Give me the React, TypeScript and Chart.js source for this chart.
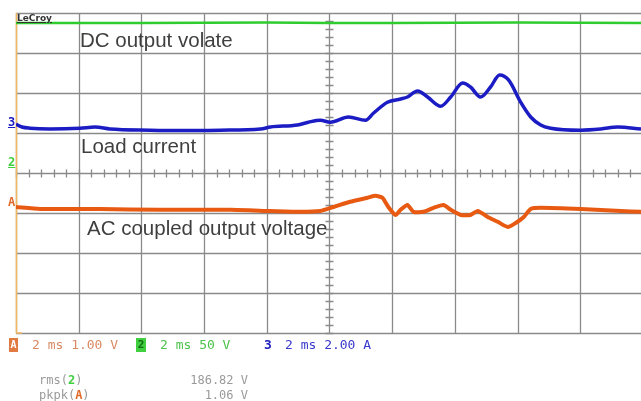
import React, { useEffect, useRef } from "react";
import { Chart, registerables } from "chart.js";

Chart.register(...registerables);

// time axis: 2 ms/div, 10 divisions; vertical axis in screen divisions (centre = 0)
const timeDivisionsMs = [0, 2, 4, 6, 8, 10, 12, 14, 16, 18];
const levelDivisions = [-4, -3, -2, -1, 0, 1, 2, 3, 4];

// Channel 2 – DC output voltage (div)
const dcTime = [0, 4, 8, 10, 12, 16, 20];
const dcLevel = [3.75, 3.75, 3.76, 3.75, 3.75, 3.76, 3.75];

// Channel 3 – load current (div)
const loadTime = [0, 0.19, 0.45, 1.09, 2.04, 2.52, 3.0, 4.28, 5.24, 6.52, 7.8, 8.12, 8.98, 9.33, 9.71, 10.03, 10.61, 11.15, 11.41, 11.85, 12.27, 12.49, 12.81, 13.13, 13.55, 13.87, 14.25, 14.5, 14.82, 15.14, 15.43, 15.72, 16.1, 16.42, 16.74, 17.06, 18.02, 18.66, 19.2, 19.94];
const loadLevel = [1.22, 1.15, 1.12, 1.1, 1.12, 1.15, 1.1, 1.07, 1.06, 1.07, 1.1, 1.15, 1.2, 1.27, 1.32, 1.27, 1.4, 1.32, 1.5, 1.77, 1.85, 1.9, 2.05, 1.9, 1.67, 1.9, 2.25, 2.15, 1.9, 2.15, 2.45, 2.32, 1.77, 1.4, 1.2, 1.12, 1.07, 1.1, 1.15, 1.1];

// Channel A – AC coupled output voltage (div)
const acTime = [0, 0.77, 2.68, 4.6, 6.84, 8.12, 9.07, 9.71, 10.13, 10.66, 11.21, 11.47, 11.69, 11.88, 12.11, 12.27, 12.49, 12.68, 13.0, 13.32, 13.64, 13.87, 14.19, 14.5, 14.73, 15.05, 15.37, 15.69, 15.94, 16.2, 16.42, 16.74, 18.02, 19.3, 19.94];
const acLevel = [-0.85, -0.9, -0.9, -0.92, -0.92, -0.95, -0.97, -0.95, -0.85, -0.72, -0.62, -0.57, -0.62, -0.85, -1.05, -0.92, -0.8, -0.97, -0.97, -0.87, -0.8, -0.92, -1.05, -1.05, -0.95, -1.1, -1.22, -1.35, -1.25, -1.1, -0.9, -0.87, -0.9, -0.95, -0.97];

const pts = (xs: number[], ys: number[]) => xs.map((x, i) => ({ x, y: ys[i] }));

const gridPlugin = {
  id: "scopeGrid",
  beforeDatasetsDraw(chart: any) {
    const { ctx, chartArea, scales } = chart;
    const xs = scales.x;
    const ys = scales.y;
    const { left, right, top, bottom } = chartArea;
    ctx.save();
    ctx.strokeStyle = "#8a8a8a";
    ctx.lineWidth = 1.3;
    timeDivisionsMs.forEach((t) => {
      const x = Math.round(xs.getPixelForValue(t)) + 0.5;
      ctx.beginPath();
      ctx.moveTo(x, top);
      ctx.lineTo(x, bottom);
      ctx.stroke();
    });
    levelDivisions.forEach((v) => {
      const y = Math.round(ys.getPixelForValue(v)) + 0.5;
      ctx.beginPath();
      ctx.moveTo(left, y);
      ctx.lineTo(right, y);
      ctx.stroke();
    });
    // centre minor ticks
    const cy = Math.round(ys.getPixelForValue(0)) + 0.5;
    const cx = Math.round(xs.getPixelForValue(10)) + 0.5;
    ctx.beginPath();
    for (let t = 0; t <= 20; t += 0.4) {
      const x = Math.round(xs.getPixelForValue(t)) + 0.5;
      if (x > right) break;
      ctx.moveTo(x, cy - 4);
      ctx.lineTo(x, cy + 4);
    }
    for (let v = -4; v <= 4; v += 0.2) {
      const y = Math.round(ys.getPixelForValue(v)) + 0.5;
      ctx.moveTo(cx - 4, y);
      ctx.lineTo(cx + 4, y);
    }
    ctx.stroke();
    // left trigger/marker line
    ctx.strokeStyle = "#f2b860";
    ctx.lineWidth = 1.5;
    ctx.beginPath();
    ctx.moveTo(left + 0.5, top);
    ctx.lineTo(left + 0.5, bottom);
    ctx.lineTo(left + 6, bottom);
    ctx.stroke();
    ctx.restore();
  },
};

const textBase: React.CSSProperties = {
  position: "absolute",
  whiteSpace: "nowrap",
  margin: 0,
};

const label = (txt: string, left: number, top: number): React.ReactElement => (
  <div
    key={txt}
    style={{
      ...textBase,
      left,
      top,
      fontFamily: "'Liberation Sans', Arial, sans-serif",
      fontSize: 20.5,
      lineHeight: "20.5px",
      color: "#3f3f3f",
    }}
  >
    {txt}
  </div>
);

const mono: React.CSSProperties = {
  ...textBase,
  fontFamily: "'DejaVu Sans Mono', monospace",
  fontSize: 13,
  lineHeight: "14px",
};

export default function App() {
  const ref = useRef<HTMLCanvasElement | null>(null);
  useEffect(() => {
    if (!ref.current) return;
    const chart = new Chart(ref.current, {
      type: "line",
      data: {
        datasets: [
          {
            label: "DC output voltage",
            data: pts(dcTime, dcLevel),
            borderColor: "#2ecc2e",
            borderWidth: 2.5,
            pointRadius: 0,
            tension: 0,
          },
          {
            label: "Load current",
            data: pts(loadTime, loadLevel),
            borderColor: "#1c1cc4",
            borderWidth: 3.5,
            pointRadius: 0,
            cubicInterpolationMode: "monotone",
          },
          {
            label: "AC coupled output voltage",
            data: pts(acTime, acLevel),
            borderColor: "#e85a12",
            borderWidth: 4,
            pointRadius: 0,
            tension: 0.2,
          },
        ],
      },
      options: {
        animation: false,
        responsive: false,
        layout: { padding: { left: 16, top: 13, right: 0, bottom: 68 } },
        plugins: { legend: { display: false }, tooltip: { enabled: false } },
        scales: {
          x: { type: "linear", min: 0, max: 19.94, display: false },
          y: { type: "linear", min: -4, max: 4, display: false },
        },
      },
      plugins: [gridPlugin],
    });
    return () => chart.destroy();
  }, []);

  return (
    <div style={{ position: "fixed", left: 0, top: 0, width: 641, height: 401, background: "#fff", overflow: "hidden" }}>
      <canvas ref={ref} width={641} height={401} style={{ display: "block", position: "absolute", left: 0, top: 0 }} />
      <div
        style={{
          ...textBase,
          left: 17,
          top: 13,
          fontFamily: "'DejaVu Sans', sans-serif",
          fontSize: 9,
          fontWeight: "bold",
          color: "#333",
          textDecoration: "underline",
          lineHeight: "10px",
        }}
      >
        LeCroy
      </div>
      {label("DC output volate", 80, 29.6)}
      {label("Load current", 81, 135.6)}
      {label("AC coupled output voltage", 87, 217.6)}
      {/* channel markers at left */}
      <div style={{ ...mono, left: 8, top: 115, color: "#1c1cc4", fontWeight: "bold", textDecoration: "underline", fontSize: 12 }}>3</div>
      <div style={{ ...mono, left: 8, top: 155, color: "#3fcf3f", fontWeight: "bold", textDecoration: "underline", fontSize: 12 }}>2</div>
      <div style={{ ...mono, left: 8, top: 195, color: "#e06a2a", fontWeight: "bold", fontSize: 12 }}>A</div>
      {/* bottom channel settings */}
      <div style={{ ...mono, left: 9, top: 338, width: 9, height: 14, background: "#e07a40", color: "#fff", fontSize: 10, textAlign: "center", fontWeight: "bold" }}>A</div>
      <div style={{ ...mono, left: 32, top: 338, color: "#d98a64" }}>2 ms 1.00 V</div>
      <div style={{ ...mono, left: 136, top: 338, width: 10, height: 14, background: "#3fcf3f", color: "#146814", fontSize: 11, textAlign: "center", fontWeight: "bold" }}>2</div>
      <div style={{ ...mono, left: 160, top: 338, color: "#4cc34c" }}>2 ms 50 V</div>
      <div style={{ ...mono, left: 264, top: 338, color: "#2222c0", fontWeight: "bold" }}>3</div>
      <div style={{ ...mono, left: 285, top: 338, color: "#3a3acc" }}>2 ms 2.00 A</div>
      {/* measurements */}
      <div style={{ ...mono, left: 39, top: 373, color: "#9a9a9a", fontSize: 12 }}>
        rms(<span style={{ color: "#3fcf3f", fontWeight: "bold" }}>2</span>)
      </div>
      <div style={{ ...mono, left: 39, top: 388, color: "#9a9a9a", fontSize: 12 }}>
        pkpk(<span style={{ color: "#e06a2a", fontWeight: "bold" }}>A</span>)
      </div>
      <div style={{ ...mono, left: 160, width: 88, textAlign: "right", top: 373, color: "#9a9a9a", fontSize: 12 }}>186.82 V</div>
      <div style={{ ...mono, left: 160, width: 88, textAlign: "right", top: 388, color: "#9a9a9a", fontSize: 12 }}>1.06 V</div>
    </div>
  );
}
